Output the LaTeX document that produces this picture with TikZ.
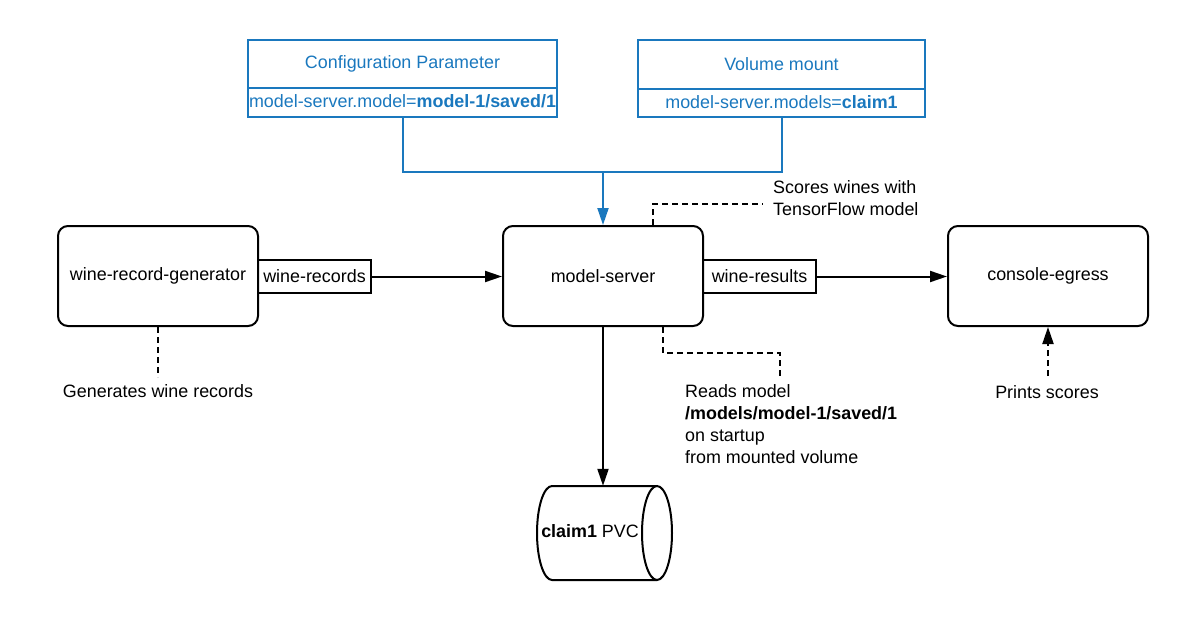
\documentclass[tikz,border=0pt]{standalone}
\usepackage{fontspec}
\setmainfont{Liberation Sans}
\usetikzlibrary{arrows.meta}
\definecolor{cblue}{HTML}{1A78BE}
\begin{document}
\begin{tikzpicture}[x=1pt,y=-1pt,
  font=\fontsize{17.9}{22}\selectfont,
  box/.style={draw, line width=2pt, rounded corners=10pt, minimum width=200pt, minimum height=100pt, inner sep=0pt},
  lbl/.style={draw, line width=2pt, minimum width=113pt, minimum height=33pt, inner sep=0pt},
  bbox/.style={draw=cblue, text=cblue, line width=2pt, inner sep=0pt, outer sep=0pt},
  bval/.style={text=cblue, inner sep=0pt, outer sep=0pt},
  bline/.style={draw=cblue, line width=2pt, line cap=rect},
  note/.style={inner sep=0pt, align=left},
  arr/.style={line width=2pt, -{Triangle[length=17pt,width=11pt]}},
  dashline/.style={line width=2pt, dash pattern=on 6pt off 4pt},
]
\useasboundingbox (0,0) rectangle (1189,621);

% top configuration boxes
\node[bbox, minimum width=309pt, minimum height=48pt] (cfg) at (402.5,64) {Configuration Parameter};
\node[bval, minimum width=309pt, minimum height=29pt, anchor=north] (cfgv) at (cfg.south) {\raisebox{2pt}{model-server.model=\textbf{model-1/saved/1}}};
\draw[bline] (cfg.south west) -- (cfgv.south west) -- (cfgv.south east) -- (cfg.south east);
\node[bbox, minimum width=287pt, minimum height=49pt] (vol) at (781.5,64.5) {Volume mount};
\node[bval, minimum width=287pt, minimum height=28pt, anchor=north] (volv) at (vol.south) {\raisebox{2pt}{model-server.models=\textbf{claim1}}};
\draw[bline] (vol.south west) -- (volv.south west) -- (volv.south east) -- (vol.south east);

% main boxes
\node[box] (gen) at (158,276) {wine-record-generator};
\node[box] (ms) at (603,276) {model-server};
\node[box] (ce) at (1048,276) {console-egress};

\node[lbl] (wr) at (314.5,276.5) {wine-records};
\node[lbl] (wres) at (759.5,276.5) {wine-results};

% PVC cylinder
\node[inner sep=0pt, minimum width=135pt, minimum height=94pt] (pvc) at (604.5,533) {};
\draw[line width=2pt, fill=white] (657,486) -- (552,486)
  arc[start angle=90, end angle=270, x radius=15pt, y radius=47pt] -- (657,580);
\draw[line width=2pt, fill=white] (657,533) ellipse[x radius=15pt, y radius=47pt];
\node[inner sep=0pt] (pvct) at (590,531) {\textbf{claim1} PVC};

% blue connectors
\coordinate (j) at (603,172);
\draw[cblue, line width=2pt] (cfgv.south) |- (j) -| (volv.south);
\draw[cblue, arr] (j) -- (ms.north);

% flow arrows
\draw[arr] (wr.east) -- (ms.west |- wr.east);
\draw[arr] (wres.east) -- (ce.west |- wres.east);
\draw[arr] (ms.south) -- (ms.south |- pvc.north);

% notes
\node[note, anchor=north west] (sc) at (773,180) {Scores wines with\\TensorFlow model};
\coordinate (scend) at (763,204);
\draw[dashline] ([xshift=50pt]ms.north) |- (scend);

\node[note, anchor=north west] (rd) at (685,384) {Reads model\\\textbf{/models/model-1/saved/1}\\on startup\\from mounted volume};
\coordinate (rdend) at (780,377);
\draw[dashline] ([xshift=60pt]ms.south) -- ++(0,26) -| (rdend);

\node[note] (gt) at (158,391) {Generates wine records};
\draw[dashline] (gen.south) -- ++(0,50);

\node[note] (pt) at (1047,392) {Prints scores};
\coordinate (ptend) at (1048,376);
\draw[dashline, -{Triangle[length=17pt,width=11pt]}] (ptend) -- (ce.south);
\end{tikzpicture}
\end{document}
